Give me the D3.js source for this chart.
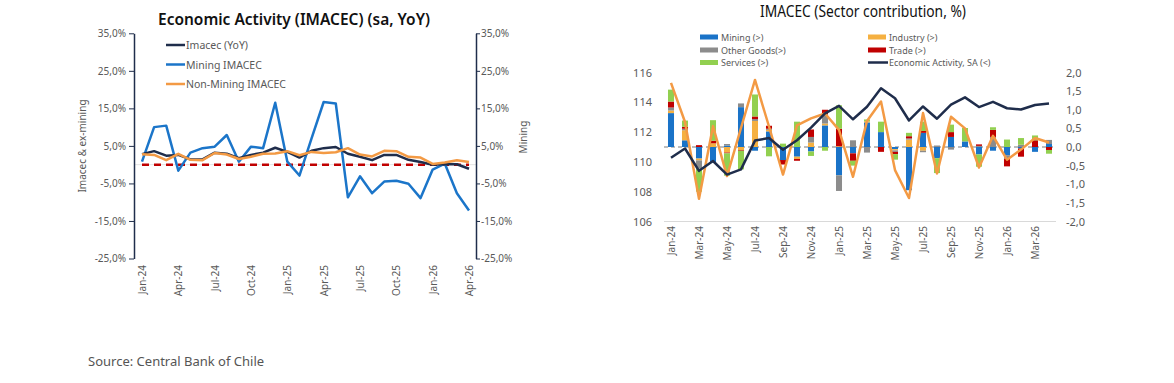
<!DOCTYPE html>
<html><head><meta charset="utf-8">
<script src="https://cdn.jsdelivr.net/npm/d3@7"></script>
<style>
body{margin:0;background:#fff;}
svg{display:block;font-family:"Noto Sans",sans-serif;}
</style></head><body>
<svg id="c" width="1174" height="383"></svg>
<script>
// ---------- DATA ----------
const months = ["Jan-24","Feb-24","Mar-24","Apr-24","May-24","Jun-24","Jul-24","Aug-24","Sep-24","Oct-24","Nov-24","Dec-24",
  "Jan-25","Feb-25","Mar-25","Apr-25","May-25","Jun-25","Jul-25","Aug-25","Sep-25","Oct-25","Nov-25","Dec-25",
  "Jan-26","Feb-26","Mar-26","Apr-26"];
// Left chart (YoY, %)
const imacecYoY    = [2.8,3.6,2.4,2.6,1.4,1.4,3.2,2.9,1.7,2.6,3.2,4.5,3.4,1.9,3.7,4.4,4.7,2.9,2.1,1.2,2.6,2.6,1.3,0.7,0.0,0.2,0.1,-1.1];
const miningYoY    = [0.8,10.0,10.4,-1.6,3.2,4.4,4.8,7.9,0.8,4.8,4.4,16.5,0.8,-2.9,7.0,16.7,16.3,-8.7,-3.1,-7.6,-4.5,-4.3,-5.1,-8.9,-1.3,0.3,-7.6,-12.2];
const nonMiningYoY = [2.8,2.6,1.2,2.9,1.3,1.2,3.1,2.7,1.5,2.1,2.9,3.0,3.6,2.5,3.4,3.1,3.3,4.4,2.7,2.2,3.7,3.6,2.1,1.9,0.2,0.6,1.2,0.7];
const leftTicks = [-25,-15,-5,5,15,25,35];
const leftXTicks = ["Jan-24","Apr-24","Jul-24","Oct-24","Jan-25","Apr-25","Jul-25","Oct-25","Jan-26","Apr-26"];

// Right chart (sector contributions, pp, right axis)
const mining   = [0.91,0.18,-0.31,-0.42,0.04,1.07,-0.10,0.42,-0.35,-0.26,-0.12,0.58,-0.76,-0.17,0.66,0.40,-0.06,-1.16,0.38,-0.30,0.27,0.15,-0.20,-0.10,-0.22,-0.04,-0.13,0.08];
const industry = [0.07,0.27,-0.05,0.10,-0.15,-0.08,0.70,0.04,0,-0.06,0.12,0.05,0.02,0,0.03,0,-0.03,0.20,-0.10,0,0,0,0,0,0,0,0,0];
const otherGoods = [0.08,0.04,-0.22,0,0.04,0.10,0.05,0.03,0,0,0.15,0.25,-0.42,0.18,-0.15,0,-0.04,0.03,-0.04,0.04,-0.07,0,0.03,0.27,-0.10,0.06,0,0.11];
const trade    = [0.16,0.05,0.05,0.07,-0.02,-0.02,0.07,0.08,-0.12,-0.05,0.20,0.12,0.47,-0.20,0,-0.13,-0.06,0.06,0.05,0,0.13,0,0.04,0.19,-0.20,-0.22,0.18,-0.08];
const services = [0.32,0.17,-0.62,0.55,-0.60,-0.50,0.59,-0.25,0.09,0.68,-0.12,-0.10,0.63,-0.13,0.05,0.28,-0.15,0.09,0.25,-0.40,0.20,0.36,-0.33,0.07,0.20,0.18,0.13,-0.10];
const imacecMoM = [1.72,0.67,-1.39,0.56,-0.78,0.51,1.80,0.55,-0.74,0.58,0.77,0.90,0.46,-0.80,0.70,1.22,-0.62,-1.37,0.91,-0.71,0.81,0.50,-0.55,0.30,-0.34,-0.07,0.24,0.12];
const econActivitySA = [110.28,110.9,109.4,110.06,109.15,109.5,111.43,111.6,110.82,111.45,112.3,113.26,113.76,112.86,113.7,114.94,114.27,112.78,113.72,112.9,113.84,114.33,113.68,114.03,113.6,113.52,113.82,113.92];
const rightLeftTicks = [106,108,110,112,114,116];
const rightRightTicks = [-2,-1.5,-1,-0.5,0,0.5,1,1.5,2];
const rightXTicks = ["Jan-24","Mar-24","May-24","Jul-24","Sep-24","Nov-24","Jan-25","Mar-25","May-25","Jul-25","Sep-25","Nov-25","Jan-26","Mar-26"];

const sectorKeys = ["Mining (>)","Industry (>)","Other Goods(>)","Trade (>)","Services (>)"];
const sectorSeries = [mining, industry, otherGoods, trade, services];
const sectorColors = ["#1a73c8","#f5b041","#8c8c8c","#c00000","#92d050"];

// ---------- HELPERS ----------
const dec = (d, n) => (d < 0 ? "-" : "") + Math.abs(d).toFixed(n).replace(".", ",");
const svg = d3.select("#c");
const txtCol = "#595959";
const navy = "#1f2d4b", blue = "#1b75c9", orange = "#f39a44";

// ---------- LEFT CHART ----------
const xL = d3.scalePoint().domain(months).range([142, 469]);
const yL = d3.scaleLinear().domain([-25, 35]).range([258.5, 33.3]);

svg.append("text").attr("x", 158).attr("y", 25)
  .attr("font-size", 15.5).attr("font-weight", 600).attr("fill", "#111")
  .attr("textLength", 272).attr("lengthAdjust", "spacingAndGlyphs")
  .text("Economic Activity (IMACEC)  (sa, YoY)");

// zero axis line
svg.append("line").attr("x1", 134).attr("x2", 476).attr("y1", yL(0)).attr("y2", yL(0))
  .attr("stroke", "#e3e3e3").attr("stroke-width", 1);

const axL = svg.append("g").attr("transform", "translate(134,0)")
  .call(d3.axisLeft(yL).tickValues(leftTicks).tickSize(5).tickSizeOuter(0).tickFormat(d => dec(d, 1) + "%"));
const axR = svg.append("g").attr("transform", "translate(476,0)")
  .call(d3.axisRight(yL).tickValues(leftTicks).tickSize(4).tickSizeOuter(0).tickFormat(d => dec(d, 1) + "%"));
[axL, axR].forEach(g => {
  g.select(".domain").attr("stroke", navy).attr("stroke-width", 1.5);
  g.selectAll(".tick line").attr("stroke", navy);
  g.selectAll("text").attr("fill", txtCol).attr("font-size", 10).attr("font-family", "Noto Sans");
});
axL.selectAll("text").attr("x", -8);
axR.selectAll("text").attr("x", 5);

svg.append("text").attr("transform", "translate(86,146) rotate(-90)").attr("text-anchor", "middle")
  .attr("font-size", 10).attr("fill", txtCol).text("Imacec & ex-mining");
svg.append("text").attr("transform", "translate(527,137) rotate(-90)").attr("text-anchor", "middle")
  .attr("font-size", 10).attr("fill", txtCol).text("Mining");

// x labels
svg.append("g").selectAll("text").data(leftXTicks).join("text")
  .attr("transform", d => `translate(${xL(d)},265) rotate(-90)`)
  .attr("text-anchor", "end").attr("dominant-baseline", "central")
  .attr("font-size", 10).attr("fill", txtCol).text(d => d);

// dashed zero
svg.append("line").attr("x1", xL(months[0])).attr("x2", xL(months[months.length - 1]))
  .attr("y1", yL(0)).attr("y2", yL(0)).attr("stroke", "#c00000").attr("stroke-width", 2.5)
  .attr("stroke-dasharray", "7,5");

const lineL = d3.line().x((d, i) => xL(months[i])).y(d => yL(d));
[[miningYoY, blue], [imacecYoY, navy], [nonMiningYoY, orange]].forEach(([arr, c]) => {
  svg.append("path").datum(arr).attr("d", lineL).attr("fill", "none")
    .attr("stroke", c).attr("stroke-width", 2.5).attr("stroke-linejoin", "round");
});

// legend
const legL = [["Imacec (YoY)", navy], ["Mining IMACEC", blue], ["Non-Mining IMACEC", orange]];
legL.forEach(([t, c], i) => {
  const y = 45 + i * 19.5;
  svg.append("line").attr("x1", 166).attr("x2", 185).attr("y1", y).attr("y2", y)
    .attr("stroke", c).attr("stroke-width", 2.5);
  svg.append("text").attr("x", 186).attr("y", y).attr("dominant-baseline", "central")
    .attr("font-size", 10.5).attr("fill", txtCol).text(t);
});

// ---------- RIGHT CHART ----------
const xR = d3.scaleBand().domain(months).range([664, 1056]).paddingInner(0.57).paddingOuter(0.285);
const yR = d3.scaleLinear().domain([-2, 2]).range([221.5, 72.5]);
const yRL = d3.scaleLinear().domain([106, 116]).range([221.5, 72.5]);

svg.append("text").attr("x", 760).attr("y", 17)
  .attr("font-size", 15.5).attr("font-weight", 400).attr("fill", "#111")
  .attr("textLength", 206).attr("lengthAdjust", "spacingAndGlyphs")
  .text("IMACEC (Sector contribution, %)");

// baseline
svg.append("line").attr("x1", 664).attr("x2", 1056).attr("y1", yR(-2)).attr("y2", yR(-2))
  .attr("stroke", "#d9d9d9").attr("stroke-width", 1);

const axRL = svg.append("g").attr("transform", "translate(658,0)")
  .call(d3.axisLeft(yRL).tickValues(rightLeftTicks).tickSize(0).tickPadding(6).tickFormat(d => d));
const axRR = svg.append("g").attr("transform", "translate(1062,0)")
  .call(d3.axisRight(yR).tickValues(rightRightTicks).tickSize(0).tickPadding(4).tickFormat(d => dec(d, 1)));
[axRL, axRR].forEach(g => {
  g.select(".domain").remove();
  g.selectAll("text").attr("fill", txtCol).attr("font-size", 11).attr("font-family", "Noto Sans");
});

svg.append("g").selectAll("text").data(rightXTicks).join("text")
  .attr("transform", d => `translate(${xR(d) + xR.bandwidth() / 2},226) rotate(-90)`)
  .attr("text-anchor", "end").attr("dominant-baseline", "central")
  .attr("font-size", 10).attr("fill", txtCol).text(d => d);

// zero dashed line
svg.append("line").attr("x1", 664).attr("x2", 1056).attr("y1", yR(0)).attr("y2", yR(0))
  .attr("stroke", "#bdbdbd").attr("stroke-width", 2).attr("stroke-dasharray", "4,3");

// stacked bars
const rows = months.map((m, i) => {
  const r = { month: m };
  sectorKeys.forEach((k, j) => r[k] = sectorSeries[j][i]);
  return r;
});
const stacked = d3.stack().keys(sectorKeys).offset(d3.stackOffsetDiverging)(rows);
svg.append("g").selectAll("g").data(stacked).join("g")
  .attr("fill", (d, i) => sectorColors[i])
  .selectAll("rect").data(d => d).join("rect")
  .attr("x", d => xR(d.data.month)).attr("width", xR.bandwidth())
  .attr("y", d => yR(Math.max(d[0], d[1])))
  .attr("height", d => Math.abs(yR(d[0]) - yR(d[1])));

const cx = (i) => xR(months[i]) + xR.bandwidth() / 2;
svg.append("path").datum(imacecMoM)
  .attr("d", d3.line().x((d, i) => cx(i)).y(d => yR(d)))
  .attr("fill", "none").attr("stroke", orange).attr("stroke-width", 2.5).attr("stroke-linejoin", "round");
svg.append("path").datum(econActivitySA)
  .attr("d", d3.line().x((d, i) => cx(i)).y(d => yRL(d)))
  .attr("fill", "none").attr("stroke", navy).attr("stroke-width", 2.5).attr("stroke-linejoin", "round");

// legend
const legR = [
  { t: "Mining (>)", c: sectorColors[0], x: 700, y: 37, type: "rect" },
  { t: "Industry (>)", c: sectorColors[1], x: 868, y: 37, type: "rect" },
  { t: "Other Goods(>)", c: sectorColors[2], x: 700, y: 50, type: "rect" },
  { t: "Trade (>)", c: sectorColors[3], x: 868, y: 50, type: "rect" },
  { t: "Services (>)", c: sectorColors[4], x: 700, y: 62.5, type: "rect" },
  { t: "Economic Activity, SA (<)", c: navy, x: 868, y: 62.5, type: "line" }
];
legR.forEach(l => {
  if (l.type === "rect") {
    svg.append("rect").attr("x", l.x).attr("y", l.y - 2.5).attr("width", 18).attr("height", 5).attr("fill", l.c);
  } else {
    svg.append("line").attr("x1", l.x).attr("x2", l.x + 20).attr("y1", l.y).attr("y2", l.y)
      .attr("stroke", l.c).attr("stroke-width", 2.5);
  }
  svg.append("text").attr("x", l.x + 21).attr("y", l.y).attr("dominant-baseline", "central")
    .attr("font-size", 9).attr("fill", txtCol).text(l.t);
});

// source
svg.append("text").attr("x", 88).attr("y", 366).attr("font-size", 13).attr("fill", "#555")
  .text("Source: Central Bank of Chile");
</script>
</body></html>
